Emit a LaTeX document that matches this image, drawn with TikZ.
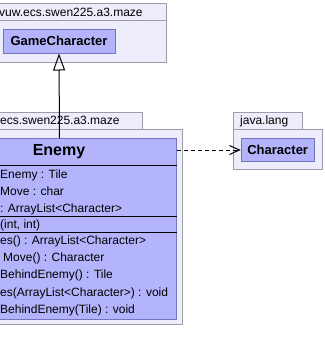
\documentclass[tikz,border=0pt]{standalone}
\usepackage{fontspec}
\setmainfont{Liberation Sans}
\usetikzlibrary{arrows.meta}
\definecolor{pkgfill}{RGB}{237,237,252}
\definecolor{pkgline}{RGB}{155,155,170}
\definecolor{clsfill}{RGB}{180,180,252}
\definecolor{clsline}{RGB}{115,115,190}
\begin{document}
\begin{tikzpicture}[x=1pt,y=-1pt,
  pkgbox/.style={draw=pkgline, fill=pkgfill, line width=1pt, inner sep=0pt, anchor=north west},
  clsbox/.style={draw=clsline, fill=clsfill, line width=1pt, inner sep=0pt},
  pkglabel/.style={font=\fontsize{12}{14}\selectfont, inner sep=0pt, anchor=base west},
  member/.style={font=\fontsize{12}{14}\selectfont, inner sep=0pt, anchor=base west},
  clsname/.style={font=\fontsize{13}{15}\selectfont\bfseries},
  sep/.style={draw=black, line width=1pt},
  gen/.style={draw=black, line width=1pt, -{Triangle[open, length=17pt, width=12pt]}},
  dep/.style={draw=black, line width=1pt, dash pattern=on 4pt off 3pt, -{Straight Barb[length=10pt, width=9pt]}},
]
\useasboundingbox (0,0) rectangle (324,364);
\clip (0,0) rectangle (324,364);

% package vuw.ecs.swen225.a3.maze (upper)
\node[pkgbox, minimum width=226pt, minimum height=42pt] (p1body) at (-60,20) {};
\node[pkgbox, minimum width=226pt, minimum height=17pt] (p1tab) at (-60,3) {};
\node[pkglabel] (p1name) at (-1,16.5) {vuw.ecs.swen225.a3.maze};
\node[clsbox, clsname, minimum width=112pt, minimum height=24pt] (gc) at (59,41) {GameCharacter};

% package ecs.swen225.a3.maze (lower)
\node[pkgbox, minimum width=242pt, minimum height=195pt] (p2body) at (-60,129) {};
\node[pkgbox, minimum width=202pt, minimum height=17pt] (p2tab) at (-60,112) {};
\node[pkglabel] (p2name) at (0,124.5) {ecs.swen225.a3.maze};

% class Enemy
\node[clsbox, anchor=north west, minimum width=234pt, minimum height=181pt] (enemy) at (-58,138) {};
\draw[sep] (enemy.west |- 0,165) -- (enemy.east |- 0,165);
\draw[sep] (enemy.west |- 0,216.5) -- (enemy.east |- 0,216.5);
\draw[sep] (enemy.west |- 0,232) -- (enemy.east |- 0,232);
\node[font=\fontsize{16}{18}\selectfont\bfseries] (ename) at (59,151.5) {Enemy};
\node[member] (a1) at (0,178.3) {Enemy : Tile};
\node[member] (a2) at (0,195.5) {Move : char};
\node[member] (a3) at (0,212.7) {: ArrayList<Character>};
\node[member] (c1) at (0,228.5) {(int, int)};
\node[member] (m1) at (0,244.3) {es() : ArrayList<Character>};
\node[member] (m2) at (3,261.6) {Move() : Character};
\node[member] (m3) at (0,278.9) {BehindEnemy() : Tile};
\node[member] (m4) at (0,296.2) {es(ArrayList<Character>) : void};
\node[member] (m5) at (0,313.5) {BehindEnemy(Tile) : void};

% package java.lang
\node[pkgbox, minimum width=89pt, minimum height=40pt] (p3body) at (233,129) {};
\node[pkgbox, minimum width=69pt, minimum height=17pt] (p3tab) at (233,112) {};
\node[pkglabel] (p3name) at (240,124.5) {java.lang};
\node[clsbox, clsname, minimum width=73pt, minimum height=23.5pt] (chr) at (277.7,150) {Character};

% relations
\draw[gen] (enemy.north) -- (gc.south);
\draw[dep] (enemy.east |- chr.west) -- (chr.west);
\end{tikzpicture}
\end{document}
